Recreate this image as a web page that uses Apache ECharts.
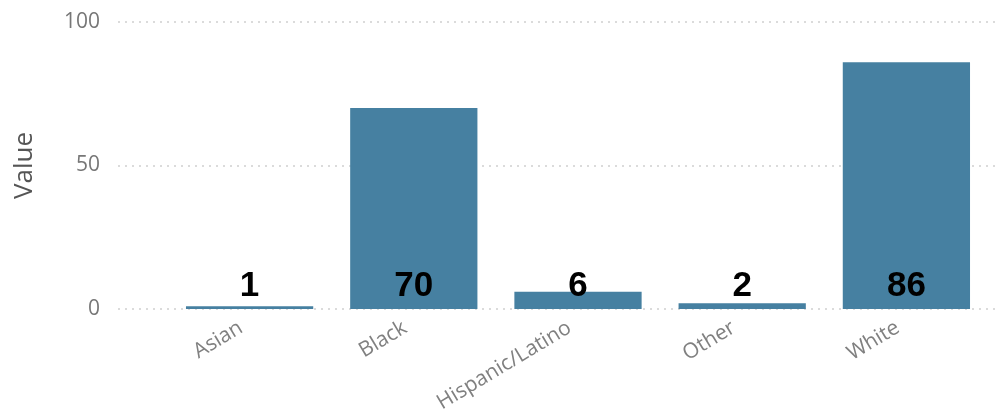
<!DOCTYPE html>
<html>
<head>
<meta charset="utf-8">
<title>Value by group</title>
<script src="https://cdn.jsdelivr.net/npm/echarts@6/dist/echarts.min.js"></script>
<style>
  html, body { margin: 0; padding: 0; background: #ffffff; }
  #chart { width: 1000px; height: 417px; }
</style>
</head>
<body>
<div id="chart"></div>
<script>
// Categories and counts shown as bars
const categories = ['Asian', 'Black', 'Hispanic/Latino', 'Other', 'White'];
const values = [1, 70, 6, 2, 86];
const yTicks = [0, 50, 100];

const yMin = yTicks[0];
const yMax = yTicks[yTicks.length - 1];
const yStep = yTicks[1] - yTicks[0];

const tickFont = '"Open Sans", "Noto Sans", sans-serif';

const chart = echarts.init(document.getElementById('chart'), null, { renderer: 'canvas' });

chart.setOption({
  animation: false,
  backgroundColor: '#ffffff',
  grid: [
    // wide grid: carries the dotted gridlines, tick labels and axis title
    { left: 118, right: 0, top: 22, bottom: 108 },
    // inner grid: carries the bars
    { left: 167.5, right: 11.5, top: 22, bottom: 108 }
  ],
  xAxis: [
    { type: 'value', gridIndex: 0, show: false, min: 0, max: 1 },
    {
      type: 'category',
      gridIndex: 1,
      data: categories,
      axisLine: { show: false },
      axisTick: { show: false },
      axisLabel: {
        rotate: 31,
        margin: 12,
        padding: [0, 10, 0, 0],
        fontSize: 21,
        color: '#808080',
        fontFamily: tickFont
      }
    }
  ],
  yAxis: [
    {
      type: 'value',
      gridIndex: 0,
      min: yMin,
      max: yMax,
      interval: yStep,
      name: 'Value',
      nameLocation: 'middle',
      nameGap: 80,
      nameTextStyle: { fontSize: 26, color: '#555555', fontFamily: tickFont },
      axisLine: { show: false },
      axisTick: { show: false },
      axisLabel: { fontSize: 21, color: '#777777', margin: 18, fontFamily: tickFont },
      splitLine: { lineStyle: { type: [2, 5], color: '#d0d0d0', width: 1.5 } }
    },
    {
      type: 'value',
      gridIndex: 1,
      min: yMin,
      max: yMax,
      interval: yStep,
      show: false,
      splitLine: { show: false }
    }
  ],
  series: [
    {
      type: 'bar',
      xAxisIndex: 1,
      yAxisIndex: 1,
      data: values,
      barCategoryGap: '22.5%',
      itemStyle: { color: '#4680a1' },
      label: {
        show: true,
        position: 'insideBottom',
        distance: 5,
        fontSize: 35,
        fontWeight: 'bold',
        color: '#000000',
        fontFamily: '"Liberation Sans", Arial, sans-serif'
      }
    }
  ]
});
</script>
</body>
</html>
